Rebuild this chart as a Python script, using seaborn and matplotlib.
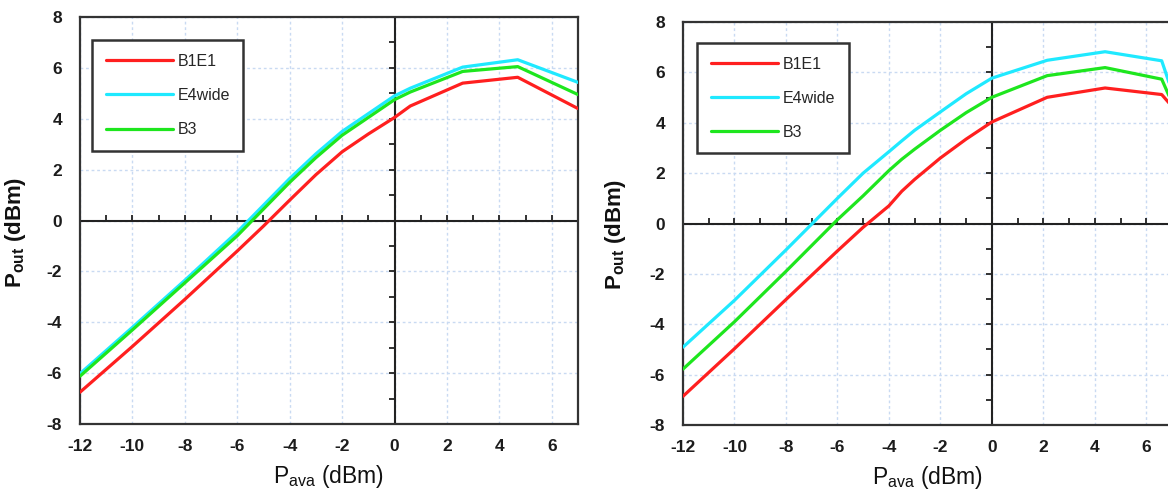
import numpy as np
import pandas as pd
import matplotlib
matplotlib.use("Agg")
import matplotlib.pyplot as plt
import seaborn as sns

# ---------------- data ----------------
series_names = ["B1E1", "E4wide", "B3"]
series_colors = ["#ff1f1f", "#1fe9ff", "#1ee61e"]

left_x = [-12, -10, -8, -6, -5, -4, -3, -2, -1, 0, 0.6, 2.6, 4.7, 7]
left_b1e1 = [-6.75, -4.95, -3.1, -1.2, -0.22, 0.8, 1.8, 2.7, 3.4, 4.05, 4.5, 5.4, 5.63, 4.4]
left_e4wide = [-6.02, -4.2, -2.35, -0.45, 0.6, 1.65, 2.62, 3.5, 4.2, 4.9, 5.2, 6.03, 6.32, 5.43]
left_b3 = [-6.12, -4.3, -2.45, -0.6, 0.45, 1.5, 2.47, 3.35, 4.05, 4.75, 5.05, 5.86, 6.05, 4.95]

right_x = [-12, -10, -8, -6, -5, -4, -3.5, -3, -2, -1, 0, 2.15, 4.4, 6.6, 7]
right_b1e1 = [-6.86, -4.97, -3.02, -1.09, -0.15, 0.7, 1.28, 1.75, 2.6, 3.35, 4.03, 5.01, 5.38, 5.12, 4.65]
right_e4wide = [-4.91, -3.05, -1.05, 1.0, 2.0, 2.85, 3.28, 3.7, 4.43, 5.15, 5.77, 6.48, 6.82, 6.46, 5.25]
right_b3 = [-5.78, -3.9, -1.9, 0.15, 1.1, 2.1, 2.55, 2.95, 3.7, 4.4, 5.01, 5.87, 6.19, 5.73, 4.8]

x_ticks = [-12, -10, -8, -6, -4, -2, 0, 2, 4, 6]
y_ticks = [-8, -6, -4, -2, 0, 2, 4, 6, 8]
x_label = r"P$_{\mathregular{ava}}$ (dBm)"
y_label = r"P$_{\mathbf{out}}$ (dBm)"

# ---------------- style ----------------
sns.set_theme(style="white")
plt.rcParams["font.family"] = ["Liberation Sans", "DejaVu Sans"]
plt.rcParams["axes.unicode_minus"] = False
plt.rcParams["mathtext.fontset"] = "custom"
plt.rcParams["mathtext.rm"] = "Liberation Sans"
plt.rcParams["mathtext.it"] = "Liberation Sans:italic"
plt.rcParams["mathtext.bf"] = "Liberation Sans:bold"


def make_df(x, ys):
    frames = []
    for name, y in zip(series_names, ys):
        frames.append(pd.DataFrame({"x": x, "y": y, "series": name}))
    return pd.concat(frames, ignore_index=True)


fig = plt.figure(figsize=(11.68, 4.9), dpi=100)
ax_l = fig.add_axes([80 / 1168, 1 - 424 / 490, 498 / 1168, 407 / 490])
ax_r = fig.add_axes([683 / 1168, 1 - 425 / 490, 489 / 1168, 403 / 490])

panels = [
    (ax_l, make_df(left_x, [left_b1e1, left_e4wide, left_b3]), (0.024, 0.943), (-0.104, 0.47), -0.097),
    (ax_r, make_df(right_x, [right_b1e1, right_e4wide, right_b3]), (0.0286, 0.948), (-0.112, 0.473), -0.096),
]

for ax, df, leg_anchor, ylab_pos, xlab_y in panels:
    sns.lineplot(data=df, x="x", y="y", hue="series", hue_order=series_names,
                 palette=series_colors, estimator=None, sort=False,
                 linewidth=2.3, ax=ax, zorder=3)
    ax.set_xlim(-12, 7)
    ax.set_ylim(-8, 8)
    ax.set_xticks(x_ticks)
    ax.set_yticks(y_ticks)
    ax.grid(True, color="#c9daf2", linestyle=(0, (2, 2)), linewidth=1.0)
    ax.set_axisbelow(True)
    for sp in ax.spines.values():
        sp.set_color("#333333")
        sp.set_linewidth(1.6)
        sp.set_visible(True)
    ax.tick_params(axis="both", length=0, labelsize=12.5, colors="#1c1c1c")
    ax.tick_params(axis="x", pad=11)
    ax.tick_params(axis="y", pad=13)
    for lab in ax.get_xticklabels() + ax.get_yticklabels():
        lab.set_fontweight("bold")

    # zero axes with small ticks
    ax.axhline(0, color="#222222", linewidth=1.5, zorder=2)
    ax.axvline(0, color="#222222", linewidth=1.5, zorder=2)
    minor_x = np.arange(-12, 8)
    minor_y = np.arange(-8, 9)
    ax.plot(minor_x, np.zeros_like(minor_x), linestyle="none", marker=2,
            markersize=4, markeredgewidth=1.3, color="#222222", zorder=2)
    ax.plot(np.zeros_like(minor_y), minor_y, linestyle="none", marker=0,
            markersize=4, markeredgewidth=1.3, color="#222222", zorder=2)

    ax.set_xlabel(x_label, fontsize=16.5, color="#111111")
    ax.xaxis.set_label_coords(0.5, xlab_y)
    ax.set_ylabel(y_label, fontsize=16, fontweight="bold", color="#111111")
    ax.yaxis.set_label_coords(*ylab_pos)

    leg = ax.legend(loc="upper left", bbox_to_anchor=leg_anchor, borderaxespad=0,
                    fontsize=11.5, handlelength=4.2, handletextpad=0.3,
                    labelspacing=1.2, borderpad=0.85, fancybox=False,
                    framealpha=1, edgecolor="#333333", title=None)
    leg.get_frame().set_linewidth(1.8)
    for h in leg.get_lines():
        h.set_linewidth(2.3)

fig.savefig("out.png", dpi=100)
